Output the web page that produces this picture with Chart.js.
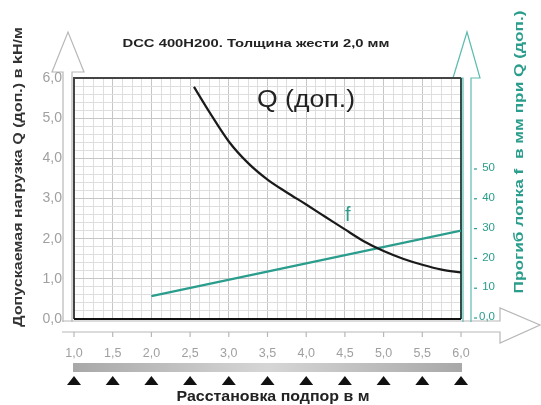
<!DOCTYPE html>
<html>
<head>
<meta charset="utf-8">
<script src="https://cdn.jsdelivr.net/npm/chart.js@4.4.1/dist/chart.umd.min.js"></script>
<style>
  html, body { margin: 0; padding: 0; background: #fff; }
  #wrap { width: 541px; height: 405px; }
</style>
</head>
<body>
<div id="wrap"><canvas id="chart" width="541" height="405"></canvas></div>
<script>
// данные с графика
const spanTicks = [1.0, 1.5, 2.0, 2.5, 3.0, 3.5, 4.0, 4.5, 5.0, 5.5, 6.0];
const loadTicks = [0, 1, 2, 3, 4, 5, 6];
const sagTicks = [0, 10, 20, 30, 40, 50];

// Q (доп.) кН/м
const qSpan = [2.55, 2.75, 3.0, 3.25, 3.5, 3.75, 4.0, 4.25, 4.5, 4.75, 5.0, 5.25, 5.5, 5.75, 6.0];
const qLoad = [5.78, 5.15, 4.42, 3.88, 3.47, 3.15, 2.85, 2.54, 2.23, 1.93, 1.69, 1.5, 1.35, 1.23, 1.16];

// прогиб f, мм
const fSpan = [2.0, 4.0, 6.0];
const fSag = [7, 18, 29];

const TEAL = "#2a9d8c";
const GREY = "#a0a0a0";
const FONT = "'Liberation Sans', Arial, sans-serif";

function comma(v) {
    return v.toFixed(1).replace(".", ",");
}

function isOn(v, list) {
    return list.some(function (t) { return Math.abs(t - v) < 1e-6; });
}

// текст, растянутый до нужной ширины
function fitText(ctx, text, cx, cy, width, rot) {
    ctx.save();
    ctx.translate(cx, cy);
    ctx.rotate(rot);
    const w = ctx.measureText(text).width;
    ctx.scale(width / w, 1);
    ctx.textAlign = "center";
    ctx.fillText(text, 0, 0);
    ctx.restore();
}

// стрелки, полоса, опоры и подписи
const decor = {
    id: "decor",
    beforeDraw: function (chart) {
        const ctx = chart.ctx;
        ctx.save();
        ctx.lineWidth = 1.2;
        ctx.fillStyle = "#fff";

        // левая стрелка
        ctx.strokeStyle = "#b8b8b8";
        ctx.beginPath();
        ctx.moveTo(63, 322);
        ctx.lineTo(63, 72);
        ctx.lineTo(52, 72);
        ctx.lineTo(68, 32);
        ctx.lineTo(84, 72);
        ctx.lineTo(72, 72);
        ctx.lineTo(72, 322);
        ctx.stroke();

        // нижняя стрелка
        ctx.beginPath();
        ctx.moveTo(62, 321);
        ctx.lineTo(500, 321);
        ctx.lineTo(500, 308);
        ctx.lineTo(540, 325);
        ctx.lineTo(500, 343);
        ctx.lineTo(500, 332);
        ctx.lineTo(62, 332);
        ctx.stroke();

        // правая стрелка
        ctx.strokeStyle = "#5cbcae";
        ctx.beginPath();
        ctx.moveTo(463, 322);
        ctx.lineTo(463, 78);
        ctx.lineTo(453, 78);
        ctx.lineTo(467, 32);
        ctx.lineTo(480, 78);
        ctx.lineTo(471, 78);
        ctx.lineTo(471, 322);
        ctx.stroke();

        const x = chart.scales.x;
        const y2 = chart.scales.y2;

        // риски на нижней стрелке
        ctx.strokeStyle = "#b8b8b8";
        spanTicks.forEach(function (t) {
            const px = x.getPixelForValue(t);
            ctx.beginPath();
            ctx.moveTo(px, 332);
            ctx.lineTo(px, 337);
            ctx.stroke();
        });

        // правая шкала
        ctx.fillStyle = TEAL;
        ctx.strokeStyle = TEAL;
        ctx.font = "11.5px " + FONT;
        ctx.textAlign = "right";
        ctx.textBaseline = "middle";
        sagTicks.forEach(function (t) {
            const py = y2.getPixelForValue(t);
            ctx.fillText(t === 0 ? "0,0" : String(t), 495, py);
            ctx.beginPath();
            ctx.moveTo(474, py + 1);
            ctx.lineTo(477, py + 1);
            ctx.stroke();
        });

        // серая полоса
        const g = ctx.createLinearGradient(73, 0, 462, 0);
        g.addColorStop(0, "#a8a8a8");
        g.addColorStop(0.5, "#d6d6d6");
        g.addColorStop(1, "#a8a8a8");
        ctx.fillStyle = g;
        ctx.fillRect(73, 363, 389, 9);

        // опоры
        ctx.fillStyle = "#111";
        spanTicks.forEach(function (t) {
            const px = x.getPixelForValue(t);
            ctx.beginPath();
            ctx.moveTo(px - 7, 385);
            ctx.lineTo(px, 376);
            ctx.lineTo(px + 7, 385);
            ctx.closePath();
            ctx.fill();
        });

        // заголовок
        ctx.fillStyle = "#222";
        ctx.textBaseline = "middle";
        ctx.font = "bold 11.5px " + FONT;
        fitText(ctx, "DCC 400H200. Толщина жести 2,0 мм", 256, 44, 267, 0);

        // подпись оси X
        ctx.font = "bold 14px " + FONT;
        fitText(ctx, "Расстановка подпор в м", 273, 397, 193, 0);

        // подпись левой оси
        ctx.fillStyle = "#333";
        ctx.font = "bold 13px " + FONT;
        fitText(ctx, "Допускаемая нагрузка Q (доп.) в kH/м", 18, 177, 300, -Math.PI / 2);

        // подпись правой оси
        ctx.fillStyle = TEAL;
        ctx.font = "bold 12.5px " + FONT;
        fitText(ctx, "Прогиб лотка f  в мм при Q (доп.)", 520, 152, 283, -Math.PI / 2);

        ctx.restore();
    },
    beforeDatasetsDraw: function (chart) {
        const ctx = chart.ctx;
        const a = chart.chartArea;
        ctx.save();
        ctx.lineWidth = 2;
        ctx.strokeStyle = "#444";
        ctx.beginPath();
        ctx.moveTo(a.left, a.bottom);
        ctx.lineTo(a.left, a.top);
        ctx.lineTo(a.right, a.top);
        ctx.stroke();
        ctx.strokeStyle = "#2f4e49";
        ctx.beginPath();
        ctx.moveTo(a.right, a.top);
        ctx.lineTo(a.right, a.bottom);
        ctx.stroke();
        ctx.strokeStyle = "#111";
        ctx.beginPath();
        ctx.moveTo(a.left, a.bottom);
        ctx.lineTo(a.right, a.bottom);
        ctx.stroke();

        // надписи у кривых
        ctx.fillStyle = "#222";
        ctx.textBaseline = "alphabetic";
        ctx.font = "23px " + FONT;
        fitText(ctx, "Q (доп.)", 306, 107, 98, 0);
        ctx.fillStyle = TEAL;
        ctx.font = "20px " + FONT;
        ctx.textAlign = "left";
        ctx.fillText("f", 345, 221);
        ctx.restore();
    }
};

new Chart(document.getElementById("chart"), {
    type: "line",
    data: {
        datasets: [
            {
                label: "Q (доп.)",
                data: qSpan.map(function (v, i) { return { x: v, y: qLoad[i] }; }),
                borderColor: "#1a1a1a",
                borderWidth: 2.2,
                pointRadius: 0,
                cubicInterpolationMode: "monotone",
                yAxisID: "y"
            },
            {
                label: "f",
                data: fSpan.map(function (v, i) { return { x: v, y: fSag[i] }; }),
                borderColor: TEAL,
                borderWidth: 2.2,
                pointRadius: 0,
                yAxisID: "y2"
            }
        ]
    },
    options: {
        responsive: false,
        animation: false,
        layout: { padding: { top: 78 } },
        plugins: {
            legend: { display: false },
            title: { display: false },
            tooltip: { enabled: false }
        },
        scales: {
            x: {
                type: "linear",
                min: 1,
                max: 6,
                afterFit: function (s) { s.height = 86; },
                ticks: {
                    stepSize: 0.125,
                    maxTicksLimit: 100,
                    autoSkip: false,
                    maxRotation: 0,
                    padding: 27,
                    color: GREY,
                    font: { size: 12.5, family: FONT },
                    callback: function (v) { return isOn(v, spanTicks) ? comma(v) : ""; }
                },
                grid: {
                    drawTicks: false,
                    color: function (c) { return isOn(c.tick.value, spanTicks) ? "#c6c6c6" : "#dedede"; }
                },
                border: { display: false }
            },
            y: {
                min: 0,
                max: 6,
                afterFit: function (s) { s.width = 74; },
                ticks: {
                    stepSize: 0.2,
                    maxTicksLimit: 100,
                    autoSkip: false,
                    padding: 12,
                    color: GREY,
                    font: { size: 14, family: FONT },
                    callback: function (v) { return isOn(v, loadTicks) ? comma(v) : ""; }
                },
                grid: {
                    drawTicks: false,
                    color: function (c) { return isOn(c.tick.value, loadTicks) ? "#c6c6c6" : "#dedede"; }
                },
                border: { display: false }
            },
            y2: {
                position: "right",
                min: -0.67,
                max: 80.2,
                afterFit: function (s) { s.width = 80; },
                afterBuildTicks: function (s) {
                    s.ticks = sagTicks.map(function (v) { return { value: v }; });
                },
                ticks: { display: false },
                grid: { display: false },
                border: { display: false }
            }
        }
    },
    plugins: [decor]
});
</script>
</body>
</html>
